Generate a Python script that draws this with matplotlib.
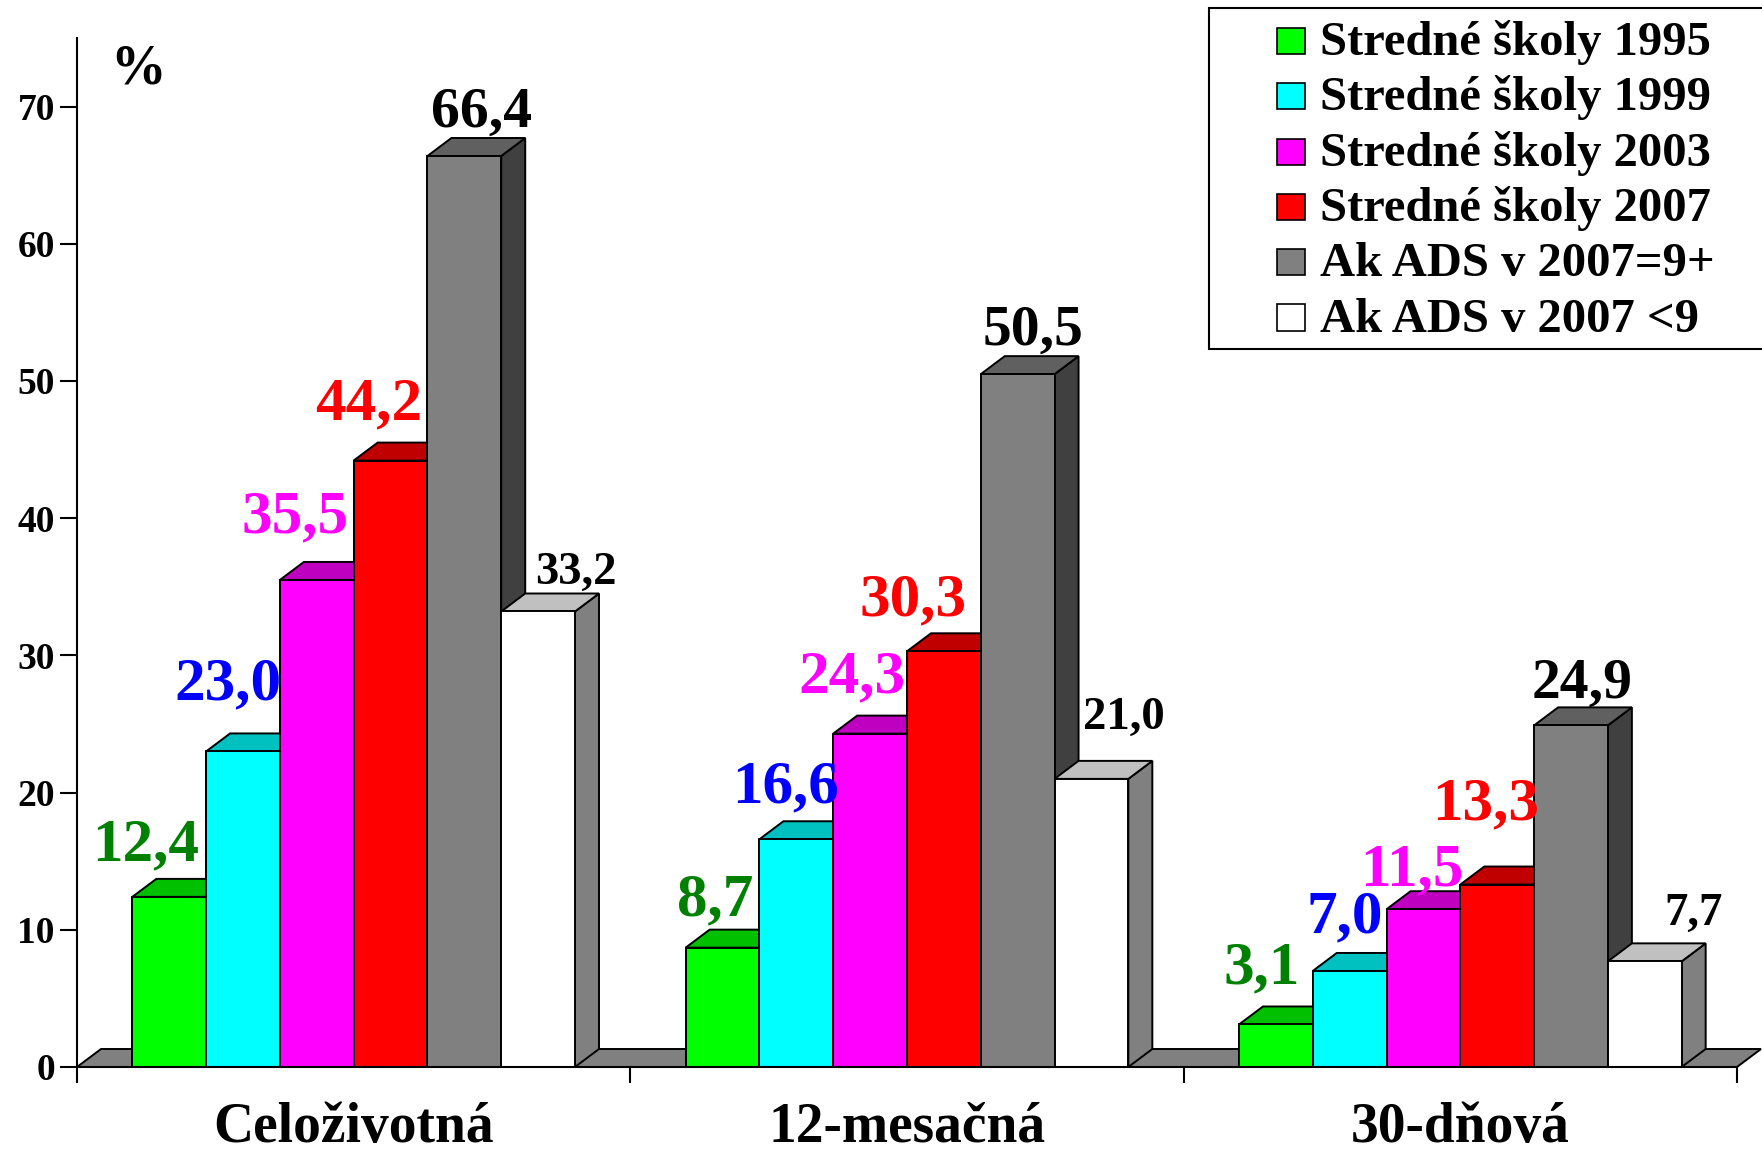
import matplotlib
matplotlib.use("Agg")
import matplotlib.pyplot as plt
from matplotlib.patches import Rectangle, Polygon

plt.rcParams['font.family'] = ['Liberation Serif', 'DejaVu Serif']
plt.rcParams['font.weight'] = 'bold'

## Data
categories = ["Celoživotná", "12-mesačná", "30-dňová"]
series_names = ["Stredné školy 1995", "Stredné školy 1999", "Stredné školy 2003",
                "Stredné školy 2007", "Ak ADS v 2007=9+", "Ak ADS v 2007 <9"]
skoly_1995 = [12.4, 8.7, 3.1]
skoly_1999 = [23.0, 16.6, 7.0]
skoly_2003 = [35.5, 24.3, 11.5]
skoly_2007 = [44.2, 30.3, 13.3]
ads_9plus = [66.4, 50.5, 24.9]
ads_below9 = [33.2, 21.0, 7.7]
values = [skoly_1995, skoly_1999, skoly_2003, skoly_2007, ads_9plus, ads_below9]
yticks = [0, 10, 20, 30, 40, 50, 60, 70]

## Styles
front_col = ['#00FF00', '#00FFFF', '#FF00FF', '#FF0000', '#808080', '#FFFFFF']
top_col = ['#00C000', '#00C0C0', '#C000C0', '#C00000', '#606060', '#C0C0C0']
side_col = ['#008000', '#008080', '#800080', '#800000', '#404040', '#808080']
label_col = ['#008000', '#0000FF', '#FF00FF', '#FF0000', '#000000', '#000000']
label_size = [44, 44, 44, 44, 41.5, 33.7]

# label nudges in pixels (x right, y up) relative to bar front top centre
label_dx = [[-24, -7, -14], [-15, -11, -5], [-22, -18, -12],
            [-22, -31, -12], [17, 15, 11], [38, 32, 49]]
label_dy = [[36, 32, 41], [52, 37, 39], [48, 41, 24],
            [41, 36, 65], [29, 29, 28], [28, 50, 36]]

W, H = 1762, 1154
fig = plt.figure(figsize=(W / 100, H / 100), dpi=100)

ax_l, ax_r, ax_b, ax_t = 77, 1737, 1067, 38
ax = fig.add_axes([ax_l / W, 1 - ax_b / H, (ax_r - ax_l) / W, (ax_b - ax_t) / H])
ax.set_xlim(0, 3)
ax.set_ylim(0, 75)

px_x = (ax_r - ax_l) / 3.0
px_y = (ax_b - ax_t) / 75.0
DX = 24 / px_x
DY = 18 / px_y
EDGE = dict(edgecolor='black', linewidth=1.4)

# floor
floor = Polygon([(0, 0), (3, 0), (3 + DX, DY), (DX, DY)], closed=True,
                facecolor='#808080', clip_on=False, zorder=1, **EDGE)
ax.add_patch(floor)

n = len(values)
bw = 0.8 / n
z = 2
for g in range(len(categories)):
    for s in range(n):
        v = values[s][g]
        x0 = g + 0.5 - 0.4 + s * bw
        side = Polygon([(x0 + bw, 0), (x0 + bw + DX, DY), (x0 + bw + DX, v + DY), (x0 + bw, v)],
                       closed=True, facecolor=side_col[s], clip_on=False, zorder=z, **EDGE)
        top = Polygon([(x0, v), (x0 + bw, v), (x0 + bw + DX, v + DY), (x0 + DX, v + DY)],
                      closed=True, facecolor=top_col[s], clip_on=False, zorder=z, **EDGE)
        front = Rectangle((x0, 0), bw, v, facecolor=front_col[s], clip_on=False, zorder=z, **EDGE)
        ax.add_patch(side)
        ax.add_patch(top)
        ax.add_patch(front)
        z += 1

# data labels
for g in range(len(categories)):
    for s in range(n):
        v = values[s][g]
        xc = g + 0.5 - 0.4 + (s + 0.5) * bw
        ax.annotate(f"{v:.1f}".replace('.', ','), (xc, v),
                    xytext=(label_dx[s][g] * 0.72, label_dy[s][g] * 0.72),
                    textcoords='offset points', ha='center', va='baseline',
                    fontsize=label_size[s], fontweight='bold', color=label_col[s],
                    zorder=100, annotation_clip=False)

# axes styling
for sp in ['top', 'right']:
    ax.spines[sp].set_visible(False)
ax.spines['left'].set_linewidth(1.5)
ax.spines['bottom'].set_linewidth(1.5)
ax.spines['bottom'].set_zorder(60)
ax.set_yticks(yticks)
ax.set_yticklabels([str(t) for t in yticks], fontsize=27, fontweight='bold')
ax.tick_params(axis='y', direction='out', length=12, width=1.5, pad=4)
ax.set_xticks([0, 1, 2, 3])
ax.set_xticklabels([])
ax.tick_params(axis='x', direction='out', length=11.5, width=1.5)
ax.patch.set_alpha(0)

for g, name in enumerate(categories):
    ax.annotate(name, (g + 0.5, 0), xytext=(0, -75 * 0.72), textcoords='offset points',
                ha='center', va='baseline', fontsize=40, fontweight='bold',
                annotation_clip=False)

# % sign
fig.text(138 / W, 1 - 84 / H, "%", ha='center', va='baseline', fontsize=40, fontweight='bold')

# legend (drawn by hand to match the box layout)
lx0, ly0, lx1, ly1 = 1209, 8, 1766, 349
fig.add_artist(Rectangle((lx0 / W, 1 - ly1 / H), (lx1 - lx0) / W, (ly1 - ly0) / H,
                         transform=fig.transFigure, facecolor='white', edgecolor='black',
                         linewidth=1.5, zorder=200))
for i, name in enumerate(series_names):
    cy = 41 + i * 55.3
    fig.add_artist(Rectangle((1277 / W, 1 - (cy + 13) / H), 28 / W, 26 / H,
                             transform=fig.transFigure, facecolor=front_col[i],
                             edgecolor='black', linewidth=1.2, zorder=201))
    fig.text(1320 / W, 1 - (cy + 14) / H, name, ha='left', va='baseline',
             fontsize=35, fontweight='bold', zorder=202)

fig.savefig("out.png", dpi=100)
